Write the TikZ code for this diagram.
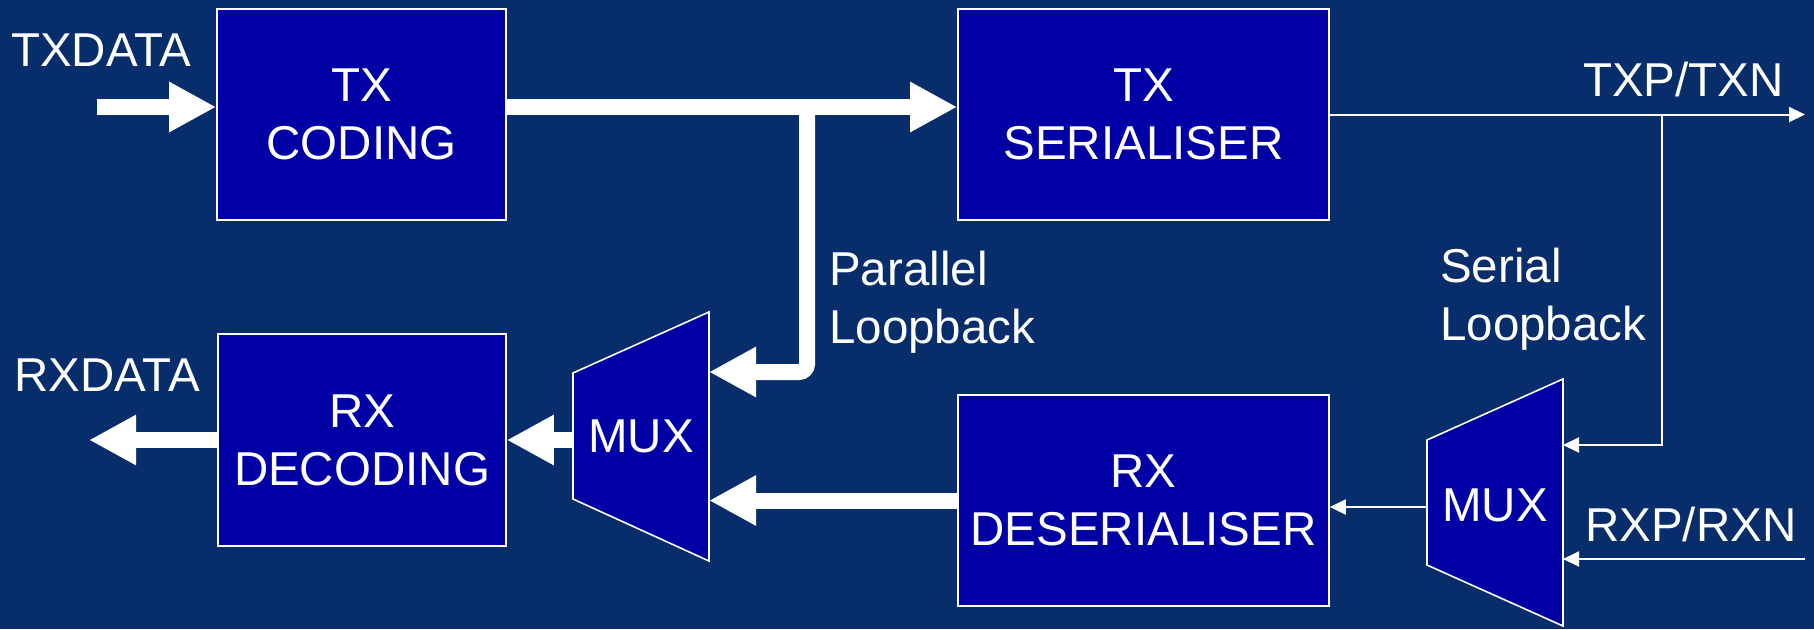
\documentclass[tikz,border=0pt]{standalone}
\usepackage{fontspec}
\setmainfont{Liberation Sans}
\usetikzlibrary{arrows.meta}
\definecolor{bgnavy}{RGB}{8,45,107}
\definecolor{boxblue}{RGB}{0,0,165}
\newcommand\diagfs{\fontsize{47.5}{58}\selectfont}
\tikzset{
  blk/.style={draw=white, line width=1.6pt, fill=boxblue, text=white, align=center, inner sep=0pt, font=\diagfs},
  lbl/.style={text=white, inner sep=0pt, font=\diagfs, align=left},
  fatarrow/.style={draw=white, line width=16pt, -{Triangle[length=47pt,width=47pt]}},
  slimarrow/.style={draw=white, line width=2pt, -{Triangle[length=16pt,width=15pt]}},
  muxshape/.style={draw=white, line width=1.6pt, fill=boxblue},
}
\begin{document}
\begin{tikzpicture}[x=1pt,y=-1pt]
\fill[bgnavy] (0,0) rectangle (1814,629);
\useasboundingbox (0,0) rectangle (1814,629);

% blocks
\node[blk, minimum width=289pt, minimum height=211pt] (txc) at (361.5,114.5) {TX\\CODING};
\node[blk, minimum width=371pt, minimum height=211pt] (txs) at (1143.5,114.5) {TX\\SERIALISER};
\node[blk, minimum width=288pt, minimum height=212pt] (rxd) at (362,440) {RX\\DECODING};
\node[blk, minimum width=371pt, minimum height=211pt] (rxs) at (1143.5,500.5) {RX\\DESERIALISER};

% multiplexers
\draw[muxshape] (573,373) -- (709,312) -- (709,561) -- (573,499) -- cycle;
\node[lbl, align=center] (mux1) at (641,436.5) {MUX};
\draw[muxshape] (1427,440) -- (1563,379) -- (1563,626) -- (1427,565) -- cycle;
\node[lbl, align=center] (mux2) at (1495,505) {MUX};

% connection points
\coordinate (m1in1) at (709,372);
\coordinate (m1in2) at (709,500.5);
\coordinate (m1out) at (573,440);
\coordinate (m2in1) at (1563,445);
\coordinate (m2in2) at (1563,559);
\coordinate (m2out) at (1427,507);
\coordinate (txin) at (97,107);
\coordinate (rxout) at (89,440);
\coordinate (txpout) at (1805,114.5);
\coordinate (rxpin) at (1805,559);
\coordinate (pbr) at (807,107);
\coordinate (sbr) at (1662,114.5);

% parallel (thick) paths
\draw[fatarrow] (txin) -- (txin -| txc.west);
\draw[fatarrow] (txc.east |- pbr) -- (txs.west |- pbr);
\draw[fatarrow, rounded corners=8pt] (pbr) |- (m1in1);
\draw[fatarrow] (rxs.west) -- (m1in2);
\draw[fatarrow] (m1out) -- (rxd.east |- m1out);
\draw[fatarrow] (rxd.west) -- (rxout);

% serial (thin) paths
\draw[slimarrow] (txs.east) -- (txpout);
\draw[slimarrow] (sbr) |- (m2in1);
\draw[slimarrow] (m2out) -- (rxs.east |- m2out);
\draw[slimarrow] (rxpin) -- (m2in2);

% labels
\node[lbl, anchor=base west] (txdata) at (11,66) {TXDATA};
\node[lbl, anchor=base west] (rxdata) at (14,391) {RXDATA};
\node[lbl, anchor=base west] (txp) at (1583,96) {TXP/TXN};
\node[lbl, anchor=base west] (rxp) at (1585,541) {RXP/RXN};
\node[lbl, anchor=base west] (plb) at (829,343) {Parallel\\Loopback};
\node[lbl, anchor=base west] (slb) at (1440,340) {Serial\\Loopback};
\end{tikzpicture}
\end{document}
